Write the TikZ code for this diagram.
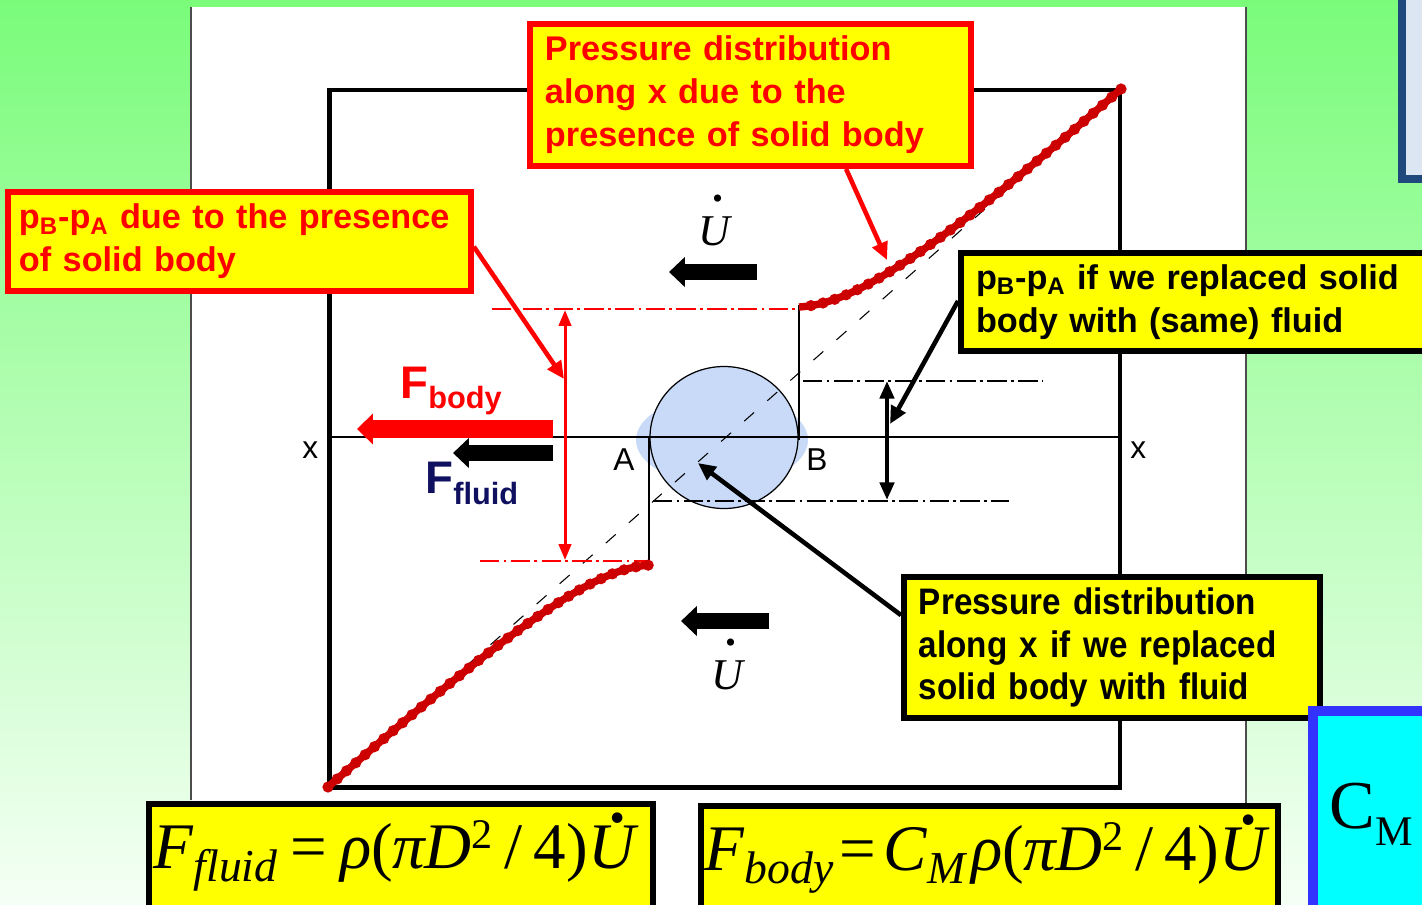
\documentclass[tikz,border=0pt]{standalone}
\usepackage{fontspec}
\setmainfont{Liberation Serif}
\setsansfont{Liberation Sans}
\newfontfamily\narrowsf[FakeStretch=0.9]{Liberation Sans}
\usetikzlibrary{arrows.meta,calc}
\definecolor{bgtop}{RGB}{122,252,122}
\definecolor{bgmid}{RGB}{165,250,165}
\definecolor{bgbot}{RGB}{245,255,245}
\definecolor{cyel}{RGB}{255,255,0}
\definecolor{cred}{RGB}{255,0,0}
\definecolor{dred}{RGB}{204,0,0}
\definecolor{navy}{RGB}{16,16,96}
\definecolor{cblue}{RGB}{200,218,248}
\definecolor{tlblue}{RGB}{31,73,125}
\definecolor{tlfill}{RGB}{220,230,242}
\definecolor{cmblue}{RGB}{51,51,255}
\definecolor{cmcyan}{RGB}{0,255,255}
\newcommand\Udt[1]{\mbox{\textit{U}\llap{\raisebox{#1}{\textbf{.}}\hspace{0.2em}}}}
\begin{document}
\begin{tikzpicture}[x=0.02cm,y=-0.02cm,
  callred/.style={draw=cred, line width=3.4pt, fill=cyel, text=cred, anchor=north west,
    font=\sffamily\bfseries\fontsize{19.5}{24.4}\selectfont, align=left, inner ysep=0pt},
  callblk/.style={callred, draw=black, text=black},
  formbox/.style={draw=black, line width=3.4pt, fill=cyel, anchor=north west, inner sep=0pt},
  lbl/.style={inner sep=0pt, anchor=base west},
  dashdotred/.style={cred, line width=0.8pt, dash pattern=on 11pt off 2.5pt on 1.5pt off 2.5pt},
  dashdotblk/.style={black, line width=0.8pt, dash pattern=on 11pt off 2.5pt on 1.5pt off 2.5pt},
  bigarrow/.style={line width=9.5pt, -{Triangle[length=9pt,width=16.5pt]}},
  pointer/.style={line width=2.6pt, -{Triangle[length=10pt,width=9pt]}},
  dimarrow/.style={line width=1.7pt, {Triangle[length=9pt,width=7pt]}-{Triangle[length=9pt,width=7pt]}}
]
\useasboundingbox (0,0) rectangle (1422,904);
\clip (0,0) rectangle (1422,904);
% background
\shade[top color=bgtop, middle color=bgmid, bottom color=bgbot] (0,0) rectangle (1422,904);
\fill[white] (191,7) rectangle (1246,910);
\draw[gray!60!black, line width=0.8pt] (191,7) -- (191,800);
\draw[gray!60!black, line width=0.8pt] (1246,7) -- (1246,910);
% top right partial box
\draw[draw=tlblue, fill=tlfill, line width=4.5pt] (1402,-10) rectangle (1440,179);
% frame
\draw[line width=2.8pt] (329.5,90) rectangle (1120,787.5);
% circle body
\fill[cblue] (722,440) ellipse [x radius=86, y radius=45];
\draw[fill=cblue, line width=0.7pt] (724,437.5) ellipse [x radius=74, y radius=71];
% x axis
\draw[line width=0.9pt] (329,437) -- (1120,437);
\node[lbl, font=\sffamily\fontsize{18}{18}\selectfont] (xl) at (302,458) {x};
\node[lbl, font=\sffamily\fontsize{18}{18}\selectfont] (xr) at (1130,458) {x};
\node[lbl, font=\sffamily\fontsize{18}{18}\selectfont] (la) at (613,470) {A};
\node[lbl, font=\sffamily\fontsize{18}{18}\selectfont] (lb) at (806,470) {B};
% dashed diagonal
\coordinate (d0) at (329,787);
\coordinate (d1) at (1120,90);
\draw[line width=0.6pt, dash pattern=on 7.5pt off 10pt] (d0) -- (d1);
% thin verticals
\coordinate (vA1) at (649,437);
\coordinate (vA2) at (649,567);
\coordinate (vB1) at (799,305);
\coordinate (vB2) at (799,440);
\draw[line width=0.8pt] (vA1) -- (vA2);
\draw[line width=0.8pt] (vB1) -- (vB2);
% dash-dot lines
\draw[dashdotred] (492,309) -- (798,309);
\draw[dashdotred] (480,561) -- (650,561);
\draw[dashdotblk] (803,381) -- (1042,381);
\draw[dashdotblk] (653,501) -- (1009,501);
% red pressure curves
\coordinate (cL0) at (328,787);
\coordinate (cL1) at (650,565);
\coordinate (cU0) at (799,307);
\coordinate (cU1) at (1121,89);
\draw[dred, line width=4.2pt] (cL0) .. controls (530,610) and (600,568) .. (cL1);
\draw[dred, line width=6.4pt, line cap=round, dash pattern=on 0pt off 7pt] (cL0) .. controls (530,610) and (600,568) .. (cL1);
\draw[dred, line width=4.2pt] (cU0) .. controls (849,304) and (919,266) .. (cU1);
\draw[dred, line width=6.4pt, line cap=round, dash pattern=on 0pt off 7pt] (cU1) .. controls (919,266) and (849,304) .. (cU0);
% dimension arrows
\coordinate (rd1) at (565,310);
\coordinate (rd2) at (565,560);
\draw[dimarrow, cred] (rd1) -- (rd2);
\coordinate (bd1) at (887,381);
\coordinate (bd2) at (887,500);
\draw[dimarrow, line width=2.4pt, {Triangle[length=10pt,width=8pt]}-{Triangle[length=10pt,width=8pt]}] (bd1) -- (bd2);
% force arrows
\coordinate (fb0) at (553,429);
\coordinate (fb1) at (357,429);
\draw[bigarrow, cred, line width=10pt, -{Triangle[length=9pt,width=17pt]}] (fb0) -- (fb1);
\coordinate (ff0) at (553,453);
\coordinate (ff1) at (453,453);
\draw[bigarrow] (ff0) -- (ff1);
\coordinate (u10) at (757,272);
\coordinate (u11) at (669,272);
\draw[bigarrow] (u10) -- (u11);
\coordinate (u20) at (769,621);
\coordinate (u21) at (681,621);
\draw[bigarrow] (u20) -- (u21);
% force labels
\node[lbl, text=cred, font=\sffamily\bfseries\fontsize{26}{26}\selectfont] (Fb) at (400,398)
  {F\raisebox{-0.22em}{\fontsize{17.5}{18}\selectfont body}};
\node[lbl, text=navy, font=\sffamily\bfseries\fontsize{26}{26}\selectfont] (Ff) at (425,493)
  {F\raisebox{-0.26em}{\fontsize{17.5}{18}\selectfont fluid}};
\node[lbl, font=\fontsize{25}{25}\selectfont] (ud1) at (698,245) {\Udt{1.0em}};
\node[lbl, font=\fontsize{25}{25}\selectfont] (ud2) at (711,689) {\Udt{1.0em}};
% callouts
\node[callred, text width=8.22cm, inner xsep=0.3cm, minimum height=2.84cm] (b1) at (527,21)
  {Pressure distribution\\along x due to the\\presence of solid body};
\node[callred, text width=8.82cm, inner xsep=0.22cm, minimum height=1.98cm] (b2) at (5,189)
  {p\textsubscript{B}-p\textsubscript{A} due to the presence\\of solid body};
\node[callblk, text width=8.84cm, inner xsep=0.3cm, minimum height=1.96cm] (b3) at (958,250)
  {p\textsubscript{B}-p\textsubscript{A} if we replaced solid\\body with (same) fluid};
\node[callblk, text width=7.72cm, inner xsep=0.3cm, minimum height=2.82cm,
  font=\narrowsf\bfseries\fontsize{21}{24.4}\selectfont] (b4) at (901,574)
  {Pressure distribution\\along x if we replaced\\solid body with fluid};
% pointers
\coordinate (t1) at (887,260);
\coordinate (t2) at (564,379);
\coordinate (t3) at (890,424);
\coordinate (t4) at (698,463);
\draw[pointer, cred] ($(b1.south west)!0.714!(b1.south east)$) -- (t1);
\draw[pointer, cred] ($(b2.north east)!0.55!(b2.south east)$) -- (t2);
\draw[pointer] ($(b3.north west)!0.49!(b3.south west)$) -- (t3);
\draw[pointer] ($(b4.north west)!0.28!(b4.south west)$) -- (t4);
% formula boxes
\node[formbox, minimum width=10.08cm, minimum height=2.2cm] (fx1) at (146,801) {};
\node[formbox, minimum width=11.54cm, minimum height=2.2cm] (fx2) at (698,803) {};
\node[lbl, font=\fontsize{37}{40}\selectfont] (f1) at (153,868)
  {\textit{F}\raisebox{-0.2em}{\fontsize{26}{26}\selectfont\textit{fluid}}\hspace{0.2em}=\hspace{0.2em}\textit{ρ}(\textit{π}\hspace{-0.04em}\textit{D}\raisebox{0.3em}{\fontsize{24}{24}\selectfont 2}\hspace{0.18em}/\hspace{0.18em}4)\Udt{0.7em}};
\node[lbl, font=\fontsize{37}{40}\selectfont] (f2) at (704,870)
  {\textit{F}\raisebox{-0.2em}{\fontsize{26}{26}\selectfont\textit{body}}\hspace{0.1em}=\hspace{0.1em}\textit{C}\raisebox{-0.2em}{\fontsize{26}{26}\selectfont\textit{M}}\hspace{0.06em}\textit{ρ}(\textit{π}\hspace{-0.04em}\textit{D}\raisebox{0.3em}{\fontsize{24}{24}\selectfont 2}\hspace{0.18em}/\hspace{0.18em}4)\Udt{0.7em}};
% C_M box
\draw[draw=cmblue, fill=cmcyan, line width=5.7pt] (1313,711) rectangle (1440,920);
\node[lbl, font=\fontsize{39}{40}\selectfont] (cm) at (1329,828)
  {C\raisebox{-0.25em}{\fontsize{24}{24}\selectfont M}};
\end{tikzpicture}
\end{document}
